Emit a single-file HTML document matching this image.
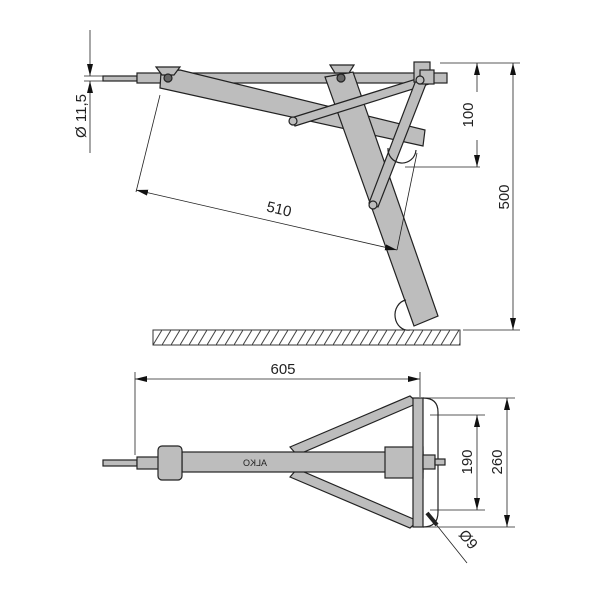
<!DOCTYPE html>
<html><head><style>body{margin:0;background:#fff}svg{display:block}</style></head><body>
<svg width="600" height="600" viewBox="0 0 600 600" xmlns="http://www.w3.org/2000/svg" font-family="Liberation Sans, sans-serif">
<defs>
<pattern id="h" width="9" height="15" patternUnits="userSpaceOnUse"><line x1="0" y1="15" x2="9" y2="0" stroke="#444" stroke-width="1"/></pattern>
<marker id="a" markerWidth="12" markerHeight="6" refX="12" refY="3" orient="auto" markerUnits="userSpaceOnUse"><path d="M0,0 L12,3 L0,6z" fill="#111"/></marker>
<marker id="b" markerWidth="12" markerHeight="6" refX="0" refY="3" orient="auto" markerUnits="userSpaceOnUse"><path d="M12,0 L0,3 L12,6z" fill="#111"/></marker>
</defs>
<g stroke="#222" stroke-width="1.2" fill="#bdbdbd">
<!-- top rod -->
<rect x="103" y="76" width="34" height="5"/>
<rect x="137" y="73" width="310" height="10"/>
<!-- long beam -->
<polygon points="180,70 425,130 423,146 160,88 161,72"/>
<!-- leg -->
<polygon points="325,77 353,72 438,316 414,326"/>
<!-- braces -->
<polygon points="291,118 426,76 429,84 295,126"/>
<polygon points="416,80 426,84 378,207 369,203"/>
<!-- brackets -->
<polygon points="156,67 180,67 174,75 162,75"/>
<polygon points="330,65 354,65 349,73 335,73"/>
<rect x="414" y="62" width="16" height="20"/>
<rect x="420" y="70" width="14" height="14"/>
<circle cx="168" cy="78" r="4" fill="#666"/>
<circle cx="341" cy="78" r="4" fill="#666"/>
<circle cx="293" cy="121" r="4"/>
<circle cx="373" cy="205" r="4"/>
<circle cx="420" cy="80" r="4"/>
<path d="M388,148 A14,14 0 0 0 416,150" fill="none"/>
<path d="M406,300 A12,14 0 0 0 410,330" fill="none"/>
</g>
<!-- ground -->
<rect x="153" y="330" width="307" height="15" fill="url(#h)" stroke="#333"/>
<g stroke="#222" stroke-width="0.8" fill="none">
<!-- phi 11.5 -->
<line x1="90" y1="30" x2="90" y2="76" marker-end="url(#a)"/>
<line x1="90" y1="153" x2="90" y2="81" marker-end="url(#a)"/>
<line x1="84" y1="76" x2="103" y2="76"/><line x1="84" y1="81" x2="103" y2="81"/>
<!-- 100 -->
<line x1="440" y1="63" x2="485" y2="63"/><line x1="405" y1="167" x2="480" y2="167"/>
<line x1="477" y1="92" x2="477" y2="63" marker-end="url(#a)"/>
<line x1="477" y1="140" x2="477" y2="167" marker-end="url(#a)"/>
<!-- 500 -->
<line x1="485" y1="63" x2="520" y2="63"/><line x1="463" y1="330" x2="520" y2="330"/>
<line x1="513" y1="63" x2="513" y2="330" marker-start="url(#b)" marker-end="url(#a)"/>
<!-- 510 -->
<line x1="160" y1="95" x2="136" y2="192"/><line x1="417" y1="153" x2="397" y2="250"/>
<line x1="136" y1="190" x2="397" y2="250" marker-start="url(#b)" marker-end="url(#a)"/>
<!-- 605 -->
<line x1="135" y1="372" x2="135" y2="455"/><line x1="420" y1="372" x2="420" y2="397"/>
<line x1="135" y1="379" x2="420" y2="379" marker-start="url(#b)" marker-end="url(#a)"/>
<!-- 190/260 -->
<line x1="430" y1="415" x2="485" y2="415"/><line x1="430" y1="510" x2="485" y2="510"/>
<line x1="425" y1="398" x2="515" y2="398"/><line x1="425" y1="527" x2="515" y2="527"/>
<line x1="477" y1="415" x2="477" y2="510" marker-start="url(#b)" marker-end="url(#a)"/>
<line x1="507" y1="398" x2="507" y2="527" marker-start="url(#b)" marker-end="url(#a)"/>
<!-- phi9 -->
<line x1="427" y1="513" x2="467" y2="563"/>
</g>
<!-- bottom view -->
<g stroke="#222" stroke-width="1.2" fill="#bdbdbd">
<polygon points="290,447 410,396 418,403 297,455"/>
<polygon points="290,477 410,528 418,521 297,469"/>
<rect x="103" y="460" width="34" height="6"/>
<rect x="137" y="457" width="23" height="12"/>
<rect x="182" y="452" width="241" height="20"/>
<rect x="158" y="446" width="24" height="34" rx="4"/>
<rect x="385" y="447" width="38" height="31"/>
<rect x="413" y="398" width="10" height="129"/>
<path d="M423,398 Q438,398 438,412 L438,512 Q438,527 423,527" fill="none"/>
<rect x="423" y="455" width="12" height="14"/>
<rect x="435" y="459" width="10" height="6"/>
<path d="M427,513 L437,525" stroke-width="4"/>
</g>
<g fill="#222" font-size="15">
<text x="267" y="466" font-size="9" transform="scale(-1,1) translate(-534,0)">ALKO</text>
<text x="283" y="374" text-anchor="middle">605</text>
<text transform="translate(278,214) rotate(13)" text-anchor="middle">510</text>
<text transform="translate(473,115) rotate(-90)" text-anchor="middle">100</text>
<text transform="translate(509,197) rotate(-90)" text-anchor="middle">500</text>
<text transform="translate(472,462) rotate(-90)" text-anchor="middle">190</text>
<text transform="translate(502,462) rotate(-90)" text-anchor="middle">260</text>
<text transform="translate(86,116) rotate(-90)" text-anchor="middle">Ø 11,5</text>
<text transform="translate(458,535) rotate(50)">Ø9</text>
</g>
</svg>
</body></html>
